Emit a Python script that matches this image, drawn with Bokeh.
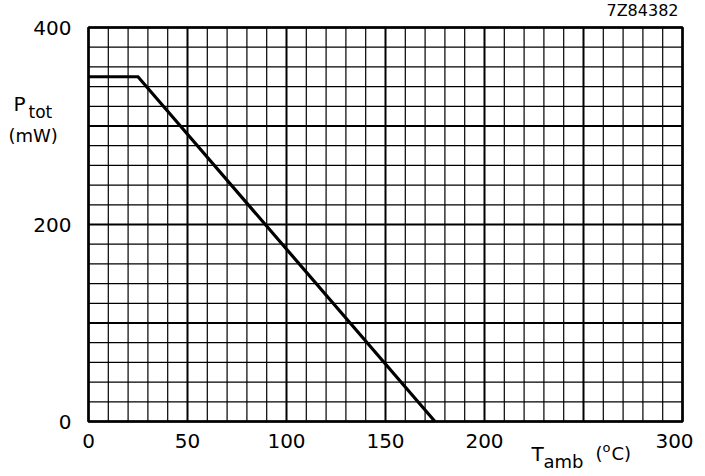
from bokeh.plotting import figure
from bokeh.models import Label, ColumnDataSource
from bokeh.core.properties import value
from bokeh.embed import file_html
from bokeh.resources import INLINE

# ---------------- data ----------------
t_amb = [0, 25, 175]
p_tot = [350, 350, 0]
x_limits = [0, 300]
y_limits = [0, 400]
x_ticks = [0, 50, 100, 150, 200, 300]
y_ticks = [0, 200, 400]
x_major_grid = list(range(0, 301, 50))
x_minor_grid = list(range(0, 301, 10))
y_major_grid = list(range(0, 401, 100))
y_minor_grid = list(range(0, 401, 20))

# ---------------- layout ----------------
W, H = 700, 474
FL, FR, FT, FB = 88, 682, 27, 421   # plot-area box in canvas pixels
sx = (FR - FL) / (x_limits[1] - x_limits[0])
sy = (FB - FT) / (y_limits[1] - y_limits[0])
x_range = (x_limits[0] - FL / sx, x_limits[0] + (W - FL) / sx)
y_range = (y_limits[0] - (H - FB) / sy, y_limits[0] + FB / sy)

FONT = "DejaVu Sans"

p = figure(width=W, height=H, x_range=x_range, y_range=y_range,
           output_backend="svg", toolbar_location=None,
           x_axis_location=None, y_axis_location=None,
           min_border=0, min_border_left=0, min_border_right=0,
           min_border_top=0, min_border_bottom=0)
p.xgrid.visible = False
p.ygrid.visible = False
p.outline_line_color = None
p.background_fill_color = "white"
p.border_fill_color = "white"

# grid (minor then major)
minor_x = [v for v in x_minor_grid if v not in x_major_grid]
minor_y = [v for v in y_minor_grid if v not in y_major_grid]
p.segment(x0=minor_x, y0=[y_limits[0]] * len(minor_x), x1=minor_x,
          y1=[y_limits[1]] * len(minor_x), line_color="black", line_width=1.2)
p.segment(x0=[x_limits[0]] * len(minor_y), y0=minor_y, x1=[x_limits[1]] * len(minor_y),
          y1=minor_y, line_color="black", line_width=1.2)
p.segment(x0=x_major_grid, y0=[y_limits[0]] * len(x_major_grid), x1=x_major_grid,
          y1=[y_limits[1]] * len(x_major_grid), line_color="black", line_width=2)
p.segment(x0=[x_limits[0]] * len(y_major_grid), y0=y_major_grid,
          x1=[x_limits[1]] * len(y_major_grid), y1=y_major_grid,
          line_color="black", line_width=2)

# frame box
p.quad(left=[x_limits[0]], right=[x_limits[1]], bottom=[y_limits[0]], top=[y_limits[1]],
       fill_color=None, line_color="black", line_width=2.5)

# data curve
p.line(t_amb, p_tot, line_width=3.2, color="black", line_join="miter")

# tick labels (last x label is nudged left so it stays inside the page)
x_label_offsets = [0 if t < x_limits[1] else -8 for t in x_ticks]
xs_src = ColumnDataSource(dict(x=x_ticks, y=[y_limits[0]] * len(x_ticks),
                               t=[str(t) for t in x_ticks], xo=x_label_offsets))
p.text(x="x", y="y", text="t", source=xs_src, text_font=value(FONT),
       text_align="center", text_baseline="top", y_offset=12, x_offset="xo",
       text_font_size="20px", text_color="black")
ys_src = ColumnDataSource(dict(x=[x_limits[0]] * len(y_ticks), y=y_ticks,
                               t=[str(t) for t in y_ticks]))
p.text(x="x", y="y", text="t", source=ys_src, text_font=value(FONT),
       text_align="right", text_baseline="middle", x_offset=-17,
       text_font_size="20px", text_color="black")


def dx(px):
    return x_limits[0] + (px - FL) / sx


def dy(py):
    return y_limits[0] + (FB - py) / sy


SHIFT = 7  # compensate rendered baseline offset


def lab(text, px, py, size, align="left"):
    p.add_layout(Label(x=dx(px), y=dy(py - SHIFT), text=text, text_font=FONT,
                       text_font_size=size, text_color="black",
                       text_align=align, text_baseline="alphabetic"))


lab("P", 13, 110, "20px")
lab("tot", 28, 118, "17px")
lab("(mW)", 8, 142, "18px")

lab("T", 531, 460, "20px")
lab("amb", 543, 468, "18px")
lab("(", 595, 460, "18px")
lab("o", 602, 454, "13px")
lab("C)", 611, 460, "18px")

lab("7Z84382", 678, 17, "16px", align="right")

open("out.html", "w").write(file_html(p, INLINE))
